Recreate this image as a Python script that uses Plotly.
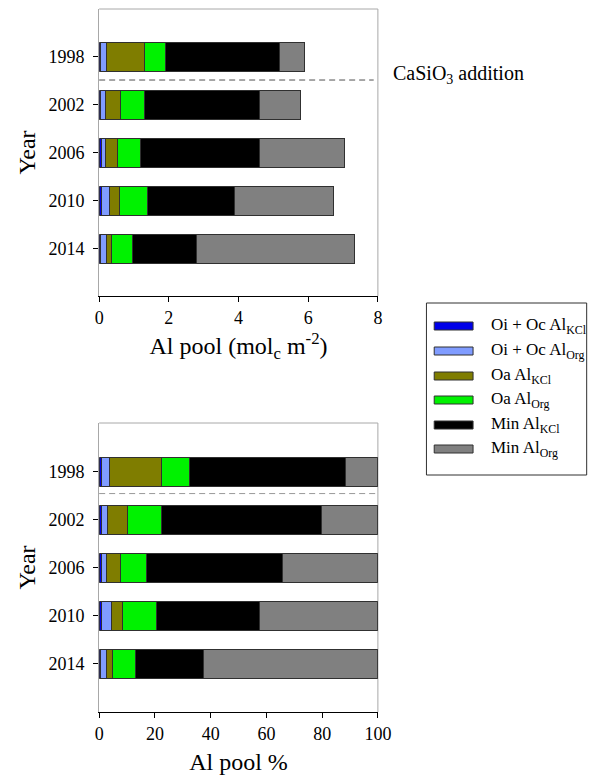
import plotly.graph_objects as go

years = ["1998", "2002", "2006", "2010", "2014"]
series_names = [
    "Oi + Oc Al<sub>KCl</sub>",
    "Oi + Oc Al<sub>Org</sub>",
    "Oa Al<sub>KCl</sub>",
    "Oa Al<sub>Org</sub>",
    "Min Al<sub>KCl</sub>",
    "Min Al<sub>Org</sub>",
]
colors = ["#0000e8", "#809cff", "#7f7d00", "#00f200", "#000000", "#808080"]

# Al pool (molc m-2), per year, per component
oi_kcl = [0.05, 0.04, 0.06, 0.06, 0.04]
oi_org = [0.17, 0.14, 0.13, 0.23, 0.16]
oa_kcl = [1.07, 0.43, 0.33, 0.29, 0.15]
oa_org = [0.60, 0.68, 0.68, 0.80, 0.61]
min_kcl = [3.30, 3.31, 3.40, 2.50, 1.82]
min_org = [0.69, 1.19, 2.43, 2.84, 4.56]

# Al pool %, per year, per component
p_oi_kcl = [0.7, 0.7, 0.8, 0.8, 0.5]
p_oi_org = [2.9, 2.3, 2.0, 3.8, 2.0]
p_oa_kcl = [18.6, 7.3, 4.9, 3.6, 2.2]
p_oa_org = [10.3, 12.1, 9.3, 12.2, 8.3]
p_min_kcl = [56.0, 57.4, 48.6, 37.2, 24.6]
p_min_org = [11.5, 20.2, 34.4, 42.4, 62.4]

pool = [oi_kcl, oi_org, oa_kcl, oa_org, min_kcl, min_org]
pct = [p_oi_kcl, p_oi_org, p_oa_kcl, p_oa_org, p_min_kcl, p_min_org]

W, H = 589, 781
def px(x):
    return x / W
def py(y):
    return 1 - y / H

SERIF = "Liberation Serif"
pos = list(range(len(years)))

fig = go.Figure()
for i, name in enumerate(series_names):
    fig.add_trace(go.Bar(x=pool[i], y=pos, orientation="h", name=name,
                         marker=dict(color=colors[i], line=dict(color="#303030", width=1)),
                         width=0.6, xaxis="x", yaxis="y", showlegend=False))
for i, name in enumerate(series_names):
    fig.add_trace(go.Bar(x=pct[i], y=pos, orientation="h", name=name,
                         marker=dict(color=colors[i], line=dict(color="#303030", width=1)),
                         width=0.6, xaxis="x2", yaxis="y2", showlegend=False))

xdom = [px(98), px(385)]
axis_common = dict(showgrid=False, zeroline=False, ticks="outside", ticklen=5,
                   tickcolor="black", tickfont=dict(family=SERIF, size=18, color="black"))
TITLE_FONT = dict(family=SERIF, size=24, color="black")

fig.update_layout(
    width=W, height=H, margin=dict(l=0, r=0, t=0, b=0),
    paper_bgcolor="white", plot_bgcolor="white",
    barmode="stack", bargap=0.4,
    font=dict(family=SERIF, color="black"),
    xaxis=dict(domain=xdom, anchor="y", range=[0, 8], tickvals=[0, 2, 4, 6, 8],
               showline=True, linecolor="black", linewidth=1,
               title=dict(text="Al pool (mol<sub>c</sub> m<sup>-2</sup>)",
                          font=TITLE_FONT, standoff=10),
               **axis_common),
    yaxis=dict(domain=[py(296), py(9)], anchor="x", range=[4.98, -1.0],
               tickvals=pos, ticktext=years, showline=True, linecolor="#a8a8a8",
               linewidth=1, ticklabelstandoff=5,
               title=dict(text="Year", font=TITLE_FONT, standoff=6),
               **axis_common),
    xaxis2=dict(domain=xdom, anchor="y2", range=[0, 100], tickvals=[0, 20, 40, 60, 80, 100],
                showline=True, linecolor="black", linewidth=1,
                title=dict(text="Al pool %", font=TITLE_FONT, standoff=10),
                **axis_common),
    yaxis2=dict(domain=[py(712), py(423)], anchor="x2", range=[5.0, -1.02],
                tickvals=pos, ticktext=years, showline=True, linecolor="#a8a8a8",
                linewidth=1, ticklabelstandoff=5,
                title=dict(text="Year", font=TITLE_FONT, standoff=6),
                **axis_common),
)

shapes = []
# gray frames (top and right)
for xr, yr in [("x", "y"), ("x2", "y2")]:
    shapes.append(dict(type="line", xref=xr + " domain", yref=yr + " domain",
                       x0=0, x1=1, y0=1, y1=1, line=dict(color="#a8a8a8", width=1), layer="below"))
    shapes.append(dict(type="line", xref=xr + " domain", yref=yr + " domain",
                       x0=1, x1=1, y0=0, y1=1, line=dict(color="#a8a8a8", width=1), layer="below"))
# dashed separators
shapes.append(dict(type="line", xref="x domain", yref="y", x0=0, x1=0.985, y0=0.48, y1=0.48,
                   line=dict(color="#505050", width=1, dash="6px,4px")))
shapes.append(dict(type="line", xref="x2 domain", yref="y2", x0=0, x1=1, y0=0.45, y1=0.45,
                   line=dict(color="#999999", width=1, dash="6px,4px")))
# legend box
shapes.append(dict(type="rect", xref="paper", yref="paper", x0=px(435), x1=px(600),
                   y0=py(475), y1=py(303), line=dict(color="#303030", width=1),
                   fillcolor="white"))
leg_y = [326, 351, 376, 400, 425, 449]
annotations = []
for i, name in enumerate(series_names):
    shapes.append(dict(type="rect", xref="paper", yref="paper", x0=px(443), x1=px(483),
                       y0=py(leg_y[i] + 4), y1=py(leg_y[i] - 4),
                       line=dict(color="#303030", width=1), fillcolor=colors[i]))
    annotations.append(dict(xref="paper", yref="paper", x=px(499), y=py(leg_y[i]),
                            text=name, showarrow=False, xanchor="left", yanchor="middle",
                            font=dict(family=SERIF, size=17, color="black")))
annotations.append(dict(xref="paper", yref="paper", x=px(398), y=py(74),
                        text="CaSiO<sub>3</sub> addition", showarrow=False,
                        xanchor="left", yanchor="middle",
                        font=dict(family=SERIF, size=20, color="black")))

fig.update_layout(shapes=shapes, annotations=annotations)
fig.write_html("out.html")
